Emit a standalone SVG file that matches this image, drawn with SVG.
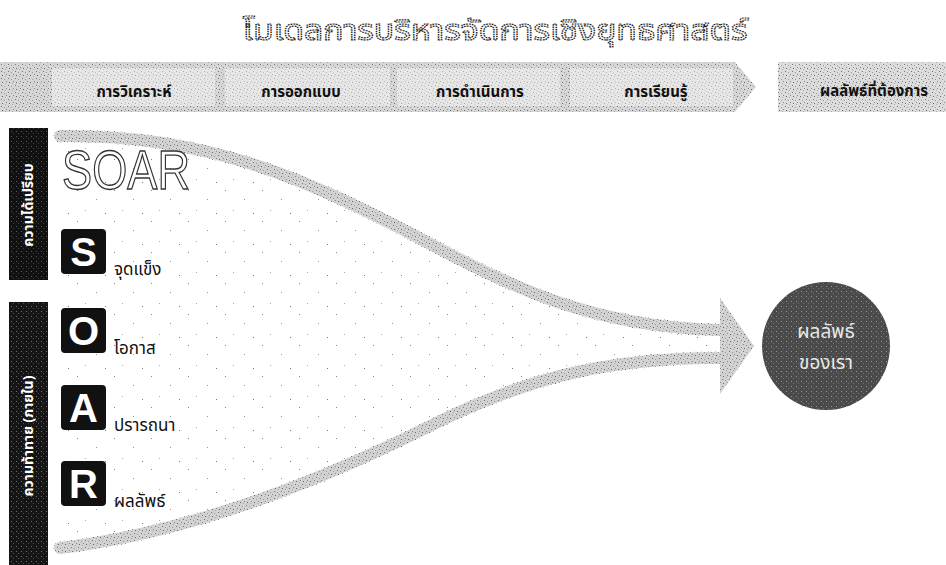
<svg xmlns="http://www.w3.org/2000/svg" width="946" height="565" viewBox="0 0 946 565">
<defs>
<style>
.th{font-family:"Noto Sans Thai","Noto Sans","DejaVu Sans",sans-serif;}
.title{font-size:28px;fill:#fff;stroke:#222;stroke-width:1.2;stroke-dasharray:1.5 0.8;}
.step{font-size:15px;font-weight:bold;fill:#111;text-anchor:middle;}
.vlab{font-size:14px;font-weight:bold;fill:#fff;text-anchor:middle;}
.soar{font-family:"Liberation Sans",Arial,sans-serif;font-size:56px;fill:#fff;stroke:#333;stroke-width:1.4;}
.let{font-family:"Liberation Sans",Arial,sans-serif;font-size:40px;font-weight:bold;fill:#fff;text-anchor:middle;}
.lbl{font-size:17px;fill:#111;}
.res{font-size:19px;fill:#e8e8e8;text-anchor:middle;}
.edge{fill:none;stroke:#d2d2d2;stroke-width:12;stroke-linecap:round;stroke-linejoin:round;}
.edgetex{fill:none;stroke:url(#speck);stroke-width:13;stroke-linecap:round;stroke-linejoin:round;}
</style>
<pattern id="speck" width="7" height="7" patternUnits="userSpaceOnUse">
<rect x="1" y="1" width="1" height="1" fill="#777"/>
<rect x="4" y="2" width="1" height="1" fill="#999"/>
<rect x="2" y="5" width="1" height="1" fill="#666"/>
<rect x="6" y="4" width="1" height="1" fill="#888"/>
<rect x="5" y="6" width="1" height="1" fill="#aaa"/>
</pattern>
<pattern id="sparse" width="37" height="31" patternUnits="userSpaceOnUse">
<rect x="3" y="4" width="1" height="1" fill="#888"/>
<rect x="22" y="13" width="1" height="1" fill="#999"/>
<rect x="11" y="24" width="1" height="1" fill="#aaa"/>
<rect x="31" y="27" width="1" height="1" fill="#777"/>
</pattern>
<pattern id="light" width="5" height="5" patternUnits="userSpaceOnUse">
<rect x="1" y="1" width="1" height="1" fill="#ddd"/>
<rect x="3" y="3" width="1" height="1" fill="#999"/>
</pattern>
</defs>

<text class="th title" x="495" y="40" text-anchor="middle" textLength="505" lengthAdjust="spacingAndGlyphs">โมเดลการบริหารจัดการเชิงยุทธศาสตร์</text>

<g id="process-band">
<path d="M0,62 H735 L756,87 L735,112 H0 Z" fill="#d6d6d6"/>
<path d="M0,62 H735 L756,87 L735,112 H0 Z" fill="url(#speck)"/>
</g>
<g id="step-analysis">
<rect x="52" y="68" width="163" height="38" fill="#e6e6e6"/>
<rect x="52" y="68" width="163" height="38" fill="url(#speck)" opacity="0.5"/>
<text class="th step" x="134" y="97">การวิเคราะห์</text>
</g>
<g id="step-design">
<rect x="225" y="68" width="165" height="38" fill="#e6e6e6"/>
<rect x="225" y="68" width="165" height="38" fill="url(#speck)" opacity="0.5"/>
<text class="th step" x="301" y="97">การออกแบบ</text>
</g>
<g id="step-implement">
<rect x="397" y="68" width="163" height="38" fill="#e6e6e6"/>
<rect x="397" y="68" width="163" height="38" fill="url(#speck)" opacity="0.5"/>
<text class="th step" x="480" y="97">การดำเนินการ</text>
</g>
<g id="step-learn">
<rect x="570" y="68" width="163" height="38" fill="#e6e6e6"/>
<rect x="570" y="68" width="163" height="38" fill="url(#speck)" opacity="0.5"/>
<text class="th step" x="656" y="97">การเรียนรู้</text>
</g>
<g id="step-result">
<rect x="778" y="62" width="168" height="50" fill="#dcdcdc"/>
<rect x="778" y="62" width="168" height="50" fill="url(#speck)"/>
<text class="th step" x="874" y="96">ผลลัพธ์ที่ต้องการ</text>
</g>

<g id="connectors">
<path d="M60,130 C200,128 300,170 400,222 C500,275 580,322 722,326 L722,300 L752,346 L722,392 L722,364 C600,362 520,385 430,430 C330,480 200,535 60,552 Z" fill="url(#sparse)"/>
<path class="edge" d="M60,136 C200,134 300,176 400,228 C500,281 580,326 718,330"/>
<path class="edge" d="M60,548 C200,531 330,476 430,426 C520,381 600,358 718,358"/>
<path d="M720,298 L754,346 L720,394 Z" fill="#d2d2d2"/>
<path class="edgetex" d="M60,136 C200,134 300,176 400,228 C500,281 580,326 718,330"/>
<path class="edgetex" d="M60,548 C200,531 330,476 430,426 C520,381 600,358 718,358"/>
<path d="M720,298 L754,346 L720,394 Z" fill="url(#speck)"/>
</g>

<g id="bar-advantage">
<rect x="9" y="128" width="39" height="152" fill="#111"/>
<rect x="9" y="128" width="39" height="152" fill="url(#light)" opacity="0.35"/>
<text class="th vlab" transform="translate(33,205) rotate(-90)">ความได้เปรียบ</text>
</g>
<g id="bar-challenge">
<rect x="9" y="302" width="39" height="263" fill="#151515"/>
<rect x="9" y="302" width="39" height="263" fill="url(#light)" opacity="0.45"/>
<text class="th vlab" transform="translate(33,436) rotate(-90)">ความท้าทาย (ภายใน)</text>
</g>

<g id="soar-title">
<text class="soar" x="62" y="189" textLength="128" lengthAdjust="spacingAndGlyphs">SOAR</text>
</g>
<g id="soar-s">
<rect x="61" y="229" width="45" height="45" rx="4" fill="#111"/>
<text class="let" x="83.5" y="266">S</text>
<text class="th lbl" x="114" y="275">จุดแข็ง</text>
</g>
<g id="soar-o">
<rect x="61" y="308" width="45" height="45" rx="4" fill="#111"/>
<text class="let" x="83.5" y="345">O</text>
<text class="th lbl" x="114" y="354">โอกาส</text>
</g>
<g id="soar-a">
<rect x="61" y="385" width="45" height="45" rx="4" fill="#111"/>
<text class="let" x="83.5" y="422">A</text>
<text class="th lbl" x="114" y="431">ปรารถนา</text>
</g>
<g id="soar-r">
<rect x="61" y="461" width="45" height="45" rx="4" fill="#111"/>
<text class="let" x="83.5" y="498">R</text>
<text class="th lbl" x="114" y="507">ผลลัพธ์</text>
</g>

<g id="our-result">
<circle cx="826" cy="346" r="64" fill="#4a4a4a"/>
<circle cx="826" cy="346" r="64" fill="url(#light)" opacity="0.5"/>
<text class="th res" x="826" y="338">ผลลัพธ์</text>
<text class="th res" x="826" y="369">ของเรา</text>
</g>
</svg>
